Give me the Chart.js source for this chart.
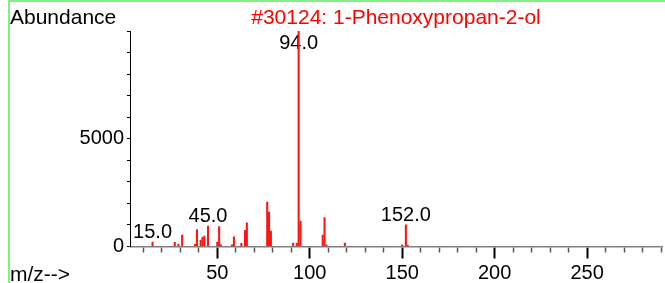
<!DOCTYPE html>
<html lang="en">
<head>
    <meta charset="UTF-8">
    <title>#30124: 1-Phenoxypropan-2-ol</title>
    <script src="https://cdn.jsdelivr.net/npm/chart.js"></script>
    <style>
        html, body { margin: 0; padding: 0; background: #fff; }
        canvas { display: block; }
    </style>
</head>
<body>
    <canvas id="msChart" width="665" height="283"></canvas>

    <script>
        // spectrum peaks (m/z and abundance)
        const mzValues = [15, 27, 29, 31, 38, 39, 41, 42, 43, 45, 50, 51, 52, 58, 59, 63, 65, 66,
                          77, 78, 79, 91, 93, 94, 95, 107, 108, 109, 119, 150, 152, 153];
        const abundance = [200, 190, 110, 530, 100, 780, 300, 420, 480, 950, 200, 920, 80, 80, 450, 150, 750, 1100,
                           2060, 1600, 720, 160, 160, 9990, 1180, 530, 1340, 80, 160, 80, 1000, 70];
        const labelledPeaks = [15, 45, 94, 152];
        const yLabelTicks = [0, 5000];

        const titleText = '#30124: 1-Phenoxypropan-2-ol';
        const yAxisText = 'Abundance';
        const xAxisText = 'm/z-->';

        const FONT = '"Liberation Sans", Arial, sans-serif';

        const isMajorX = v => v % 50 === 0;

        // texts and frame drawn around the plot
        const decorations = {
            id: 'decorations',
            beforeDatasetsDraw(chart) {
                const { ctx, scales: { x, y } } = chart;
                ctx.save();
                ctx.font = '20px ' + FONT;
                ctx.fillStyle = '#000';
                ctx.textAlign = 'center';
                ctx.textBaseline = 'alphabetic';
                labelledPeaks.forEach(mz => {
                    const i = mzValues.indexOf(mz);
                    const px = x.getPixelForValue(mz);
                    const top = y.getPixelForValue(abundance[i]);
                    ctx.fillText(mz.toFixed(1), px, Math.max(top - 4, 49));
                });
                ctx.restore();
            },
            afterDraw(chart) {
                const { ctx, chartArea } = chart;
                ctx.save();
                // green frame
                ctx.strokeStyle = 'rgb(128,240,128)';
                ctx.lineWidth = 2;
                ctx.beginPath();
                ctx.moveTo(9, 283);
                ctx.lineTo(9, 1);
                ctx.lineTo(665, 1);
                ctx.stroke();

                ctx.font = '21px ' + FONT;
                ctx.textBaseline = 'alphabetic';
                ctx.fillStyle = '#000';
                ctx.textAlign = 'left';
                ctx.fillText(yAxisText, 10, 24);
                ctx.fillText(xAxisText, 10, 281);

                ctx.fillStyle = 'rgb(255,0,0)';
                ctx.textAlign = 'center';
                ctx.fillText(titleText, (chartArea.left + chartArea.right) / 2, 24);
                ctx.restore();
            }
        };

        new Chart(document.getElementById('msChart'), {
            type: 'bar',
            data: {
                datasets: [{
                    data: mzValues.map((m, i) => ({ x: m, y: abundance[i] })),
                    backgroundColor: 'rgb(255,20,20)',
                    borderWidth: 0,
                    barThickness: 1.4
                }]
            },
            options: {
                responsive: false,
                animation: false,
                layout: { padding: { top: 31, right: 3, left: 0, bottom: 0 } },
                plugins: {
                    legend: { display: false },
                    tooltip: { enabled: false },
                    title: { display: false }
                },
                scales: {
                    x: {
                        type: 'linear',
                        min: 2.8,
                        max: 290.5,
                        offset: false,
                        afterFit: s => { s.height = 36.5; },
                        border: { display: true, color: '#808080', width: 1.5 },
                        grid: {
                            offset: false,
                            drawOnChartArea: false,
                            tickLength: 12,
                            tickColor: c => (c.tick && isMajorX(c.tick.value)) ? '#000' : '#555',
                            tickWidth: c => (c.tick && isMajorX(c.tick.value)) ? 2 : 1.5,
                            tickBorderDash: c => (c.tick && isMajorX(c.tick.value)) ? [] : [5, 30]
                        },
                        ticks: {
                            stepSize: 10,
                            includeBounds: false,
                            autoSkip: false,
                            maxRotation: 0,
                            padding: 3,
                            color: '#000',
                            font: { family: FONT, size: 20 },
                            callback: v => isMajorX(v) ? String(v) : ''
                        }
                    },
                    y: {
                        min: 0,
                        max: 10000,
                        afterFit: s => { s.width = 130; },
                        border: { display: true, color: '#000', width: 1 },
                        grid: {
                            offset: false,
                            drawOnChartArea: false,
                            tickLength: 3,
                            tickColor: '#000'
                        },
                        ticks: {
                            stepSize: 1000,
                            autoSkip: false,
                            padding: 3,
                            color: '#000',
                            font: { family: FONT, size: 20 },
                            callback: v => yLabelTicks.includes(v) ? String(v) : ''
                        }
                    }
                }
            },
            plugins: [decorations]
        });
    </script>
</body>
</html>
